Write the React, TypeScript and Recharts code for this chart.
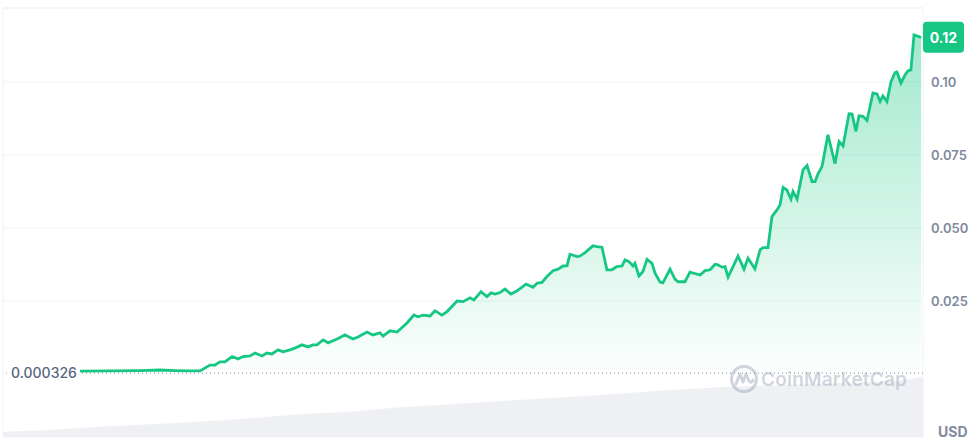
import React from "react";
import { ComposedChart, Area, XAxis, YAxis, CartesianGrid, ReferenceLine } from "recharts";

// price series: hours since the start of the window, price in USD
const priceHours = [
  402, 558, 715, 819, 897, 976, 1028, 1080, 1106, 1132, 1158, 1195, 1226, 1252, 1289, 1315, 1351, 1377, 1403, 1435,
  1461, 1497, 1523, 1560, 1591, 1617, 1638, 1670, 1696, 1743, 1784, 1826, 1852, 1899, 1930, 1967, 1983, 2019, 2056, 2108,
  2144, 2165, 2191, 2228, 2254, 2290, 2317, 2369, 2400, 2437, 2457, 2494, 2525, 2546, 2567, 2593, 2619, 2650, 2682, 2729,
  2765, 2786, 2812, 2838, 2870, 2896, 2922, 2943, 2958, 2995, 3010, 3037, 3078, 3099, 3125, 3151, 3177, 3203, 3230, 3245,
  3266, 3287, 3297, 3318, 3339, 3360, 3386, 3402, 3428, 3443, 3480, 3506, 3522, 3558, 3584, 3637, 3663, 3689, 3715, 3730,
  3751, 3767, 3783, 3835, 3866, 3887, 3923, 3950, 3965, 3991, 4012, 4038, 4054, 4070, 4090, 4111, 4122, 4143, 4174, 4195,
  4221, 4237, 4252, 4273, 4304, 4341, 4362, 4383, 4414, 4430, 4450, 4466, 4487, 4508, 4539, 4560, 4576, 4591, 4612, 4633,
  4654, 4664, 4685, 4706, 4722, 4737, 4753, 4779, 4790,
];
const prices = [
  0.001, 0.0011, 0.0012, 0.0014, 0.0012, 0.0011, 0.0011, 0.0031, 0.0031, 0.0042, 0.0042, 0.006, 0.0052, 0.006, 0.0062, 0.0072, 0.0062, 0.0072, 0.0069, 0.0083,
  0.0076, 0.0083, 0.0089, 0.01, 0.0093, 0.01, 0.01, 0.0117, 0.0107, 0.012, 0.0134, 0.012, 0.0127, 0.0144, 0.0134, 0.0141, 0.013, 0.0148, 0.0144, 0.0175,
  0.0202, 0.0196, 0.0202, 0.0199, 0.0217, 0.0202, 0.0214, 0.025, 0.0248, 0.0261, 0.0254, 0.0282, 0.0265, 0.0278, 0.0274, 0.0279, 0.0291, 0.0274, 0.0285, 0.0308,
  0.0297, 0.0311, 0.0314, 0.0334, 0.0354, 0.0359, 0.037, 0.0371, 0.041, 0.0402, 0.0404, 0.0416, 0.0439, 0.0436, 0.0434, 0.0357, 0.0357, 0.0368, 0.037, 0.0391,
  0.0385, 0.037, 0.0379, 0.0336, 0.0351, 0.0393, 0.0379, 0.0345, 0.0315, 0.0312, 0.0359, 0.0325, 0.0316, 0.0316, 0.0349, 0.0339, 0.0354, 0.0357, 0.0376, 0.0374,
  0.0366, 0.0368, 0.0332, 0.0404, 0.0359, 0.0397, 0.036, 0.0425, 0.0433, 0.0433, 0.0539, 0.0562, 0.0579, 0.0639, 0.063, 0.0599, 0.0625, 0.0599, 0.0699, 0.0714,
  0.0659, 0.0659, 0.0685, 0.071, 0.0819, 0.072, 0.0796, 0.0781, 0.0891, 0.089, 0.083, 0.0884, 0.0882, 0.0868, 0.0962, 0.0959, 0.0933, 0.0952, 0.0933, 0.1001,
  0.1032, 0.1034, 0.0996, 0.1024, 0.1038, 0.1041, 0.1161, 0.1155, 0.1151,
];

// volume (millions USD)
const volumeHours = [0, 245, 506, 767, 1028, 1289, 1549, 1810, 2071, 2332, 2750, 3115, 3480, 3741, 4054, 4419, 4680, 4784, 4800];
const volumes = [37, 49, 72, 89, 107, 131, 159, 177, 208, 229, 264, 294, 329, 348, 364, 380, 394, 418, 420];

const openPrice = 0.000326;
const lastLabel = "0.12";
const yTicks = [0.025, 0.05, 0.075, 0.1];
const yTickLabels = ["0.025", "0.050", "0.075", "0.10"];

const GREEN = "#16c784";
const GRID = "#eff2f5";
const TEXT = "#808a9d";

const byHour = new Map<number, { t: number; price?: number; volume?: number }>();
priceHours.forEach((t, i) => byHour.set(t, { ...(byHour.get(t) || { t }), price: prices[i] }));
volumeHours.forEach((t, i) => byHour.set(t, { ...(byHour.get(t) || { t }), volume: volumes[i] }));
const data = Array.from(byHour.values()).sort((a, b) => a.t - b.t);

const OpenLabel = (props: any) => {
  const { viewBox } = props;
  return (
    <g>
      <rect x={viewBox.x + 5} y={viewBox.y - 9} width={72} height={18} fill="#fff" />
      <text x={viewBox.x + 8} y={viewBox.y + 5} fill="#58667e" fontSize={14} fontWeight={500} fontFamily="Inter">
        0.000326
      </text>
    </g>
  );
};

const LastLabel = (props: any) => {
  const { viewBox } = props;
  const x = viewBox.x + viewBox.width;
  return (
    <g>
      <rect x={x} y={viewBox.y - 16} width={41} height={31} rx={4} fill={GREEN} />
      <text x={x + 20.5} y={viewBox.y + 5} fill="#fff" fontSize={14} fontWeight={700} fontFamily="Inter" textAnchor="middle">
        {lastLabel}
      </text>
    </g>
  );
};

export default function App() {
  return (
    <div style={{ position: "fixed", left: 0, top: 0, width: 975, height: 443, background: "#fff", fontFamily: "Inter" }}>
      <ComposedChart width={975} height={443} data={data} margin={{ top: 8, right: 0, bottom: 6, left: 3 }}>
        <defs>
          <linearGradient id="priceFill" x1="0" y1="0" x2="0" y2="1">
            <stop offset="0%" stopColor={GREEN} stopOpacity={0.4} />
            <stop offset="100%" stopColor={GREEN} stopOpacity={0.01} />
          </linearGradient>
        </defs>
        <CartesianGrid vertical={false} stroke={GRID} yAxisId="price" />
        <XAxis type="number" dataKey="t" domain={[0, 4800]} hide />
        <YAxis
          yAxisId="price"
          orientation="right"
          domain={[-0.02153, 0.12529]}
          ticks={yTicks}
          tickFormatter={(v: number) => yTickLabels[yTicks.indexOf(v)] ?? String(v)}
          axisLine={false}
          tickLine={false}
          width={52}
          tick={{ fill: TEXT, fontSize: 13, fontWeight: 600, fontFamily: "Inter" }}
          allowDataOverflow
        />
        <YAxis yAxisId="vol" hide domain={[0, 3000]} allowDataOverflow />
        <Area
          yAxisId="vol"
          dataKey="volume"
          type="linear"
          stroke="none"
          fill="#eef0f4"
          fillOpacity={1}
          connectNulls
          isAnimationActive={false}
          dot={false}
          activeDot={false}
        />
        <ReferenceLine yAxisId="price" x={0} stroke={GRID} />
        <ReferenceLine yAxisId="price" x={4800} stroke={GRID} />
        <ReferenceLine yAxisId="price" y={0.12529} stroke={GRID} />
        <Area
          yAxisId="price"
          dataKey="price"
          type="linear"
          stroke={GREEN}
          strokeWidth={2.8}
          fill="url(#priceFill)"
          fillOpacity={1}
          baseValue={openPrice}
          connectNulls
          isAnimationActive={false}
          dot={false}
          activeDot={false}
        />
        <ReferenceLine yAxisId="price" y={openPrice} stroke="#808a9d" strokeDasharray="1 3" label={<OpenLabel />} />
        <ReferenceLine yAxisId="price" y={prices[prices.length - 1]} stroke="none" label={<LastLabel />} />
      </ComposedChart>
      <div style={{ position: "absolute", left: 729, top: 364, display: "flex", alignItems: "center", pointerEvents: "none" }}>
        <svg width={30} height={30} viewBox="0 0 30 30">
          <circle cx={15} cy={15} r={12.5} fill="none" stroke="rgba(150,160,180,0.45)" strokeWidth={3} />
          <path d="M7 20 L11 10 L14 18 L17 10 L20 17 Q22 20 24 16" fill="none" stroke="rgba(150,160,180,0.45)" strokeWidth={3} strokeLinejoin="round" strokeLinecap="round" />
        </svg>
        <span style={{ marginLeft: 2, fontSize: 19, fontWeight: 600, color: "rgba(150,160,180,0.45)", letterSpacing: 0.2 }}>CoinMarketCap</span>
      </div>
      <div style={{ position: "absolute", left: 938, top: 423, fontSize: 14, fontWeight: 700, color: TEXT }}>USD</div>
    </div>
  );
}
